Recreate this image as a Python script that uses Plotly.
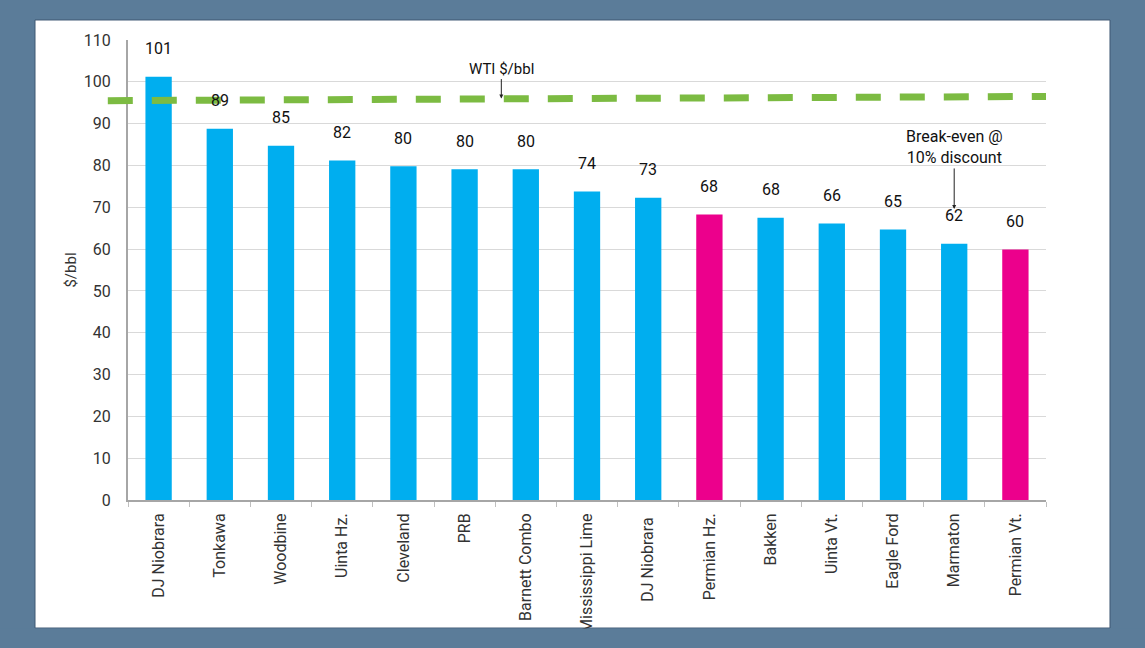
import plotly.graph_objects as go

categories = ["DJ Niobrara", "Tonkawa", "Woodbine", "Uinta Hz.", "Cleveland", "PRB",
              "Barnett Combo", "Mississippi Lime", "DJ Niobrara ", "Permian Hz.", "Bakken",
              "Uinta Vt.", "Eagle Ford", "Marmaton", "Permian Vt."]
values = [101.2, 88.8, 84.7, 81.2, 79.8, 79.1, 79.1, 73.8, 72.3, 68.3, 67.5, 66.1, 64.7, 61.3, 59.9]
labels = ["101", "89", "85", "82", "80", "80", "80", "74", "73", "68", "68", "66", "65", "62", "60"]
permian = [False, False, False, False, False, False, False, False, False, True, False, False, False, False, True]
wti = [95.5, 96.5]  # WTI $/bbl at left and right ends of the dashed line
y_ticks = [0, 10, 20, 30, 40, 50, 60, 70, 80, 90, 100, 110]

BLUE = "#00AEEF"
MAGENTA = "#EC008C"
GREEN = "#7CBB42"
FRAME = "#5B7C99"
FONT = "Roboto, Arial, sans-serif"

colors = [MAGENTA if p else BLUE for p in permian]

fig = go.Figure()
fig.add_trace(go.Bar(x=categories, y=values, marker=dict(color=colors, line=dict(width=0)),
                     width=0.43, showlegend=False, hoverinfo="x+y"))

annotations = []
for c, v, t in zip(categories, values, labels):
    annotations.append(dict(x=c, y=v, text=t, showarrow=False, yanchor="middle", yshift=28,
                            font=dict(family=FONT, size=16, color="#111111")))

annotations.append(dict(x=5.6, y=96.0, xref="x", yref="y", text="WTI $/bbl", showarrow=True,
                        arrowhead=2, arrowsize=0.8, arrowwidth=1, arrowcolor="#222222",
                        ax=0, ay=-30, font=dict(family=FONT, size=15, color="#111111")))
annotations.append(dict(x=13, y=69.6, xref="x", yref="y", text="Break-even @<br>10% discount",
                        showarrow=True, arrowhead=2, arrowsize=0.8, arrowwidth=1,
                        arrowcolor="#222222", ax=0, ay=-62,
                        font=dict(family=FONT, size=16, color="#111111")))

shapes = [
    # white panel
    dict(type="rect", xref="paper", yref="paper", x0=-0.1013, x1=1.0697, y0=-0.2783, y1=1.0435,
         fillcolor="white", line=dict(color="#3F5873", width=1), layer="below"),
    # bottom frame strip (clips overlong tick label)
    dict(type="rect", xref="paper", yref="paper", x0=-0.2, x1=1.2, y0=-0.34, y1=-0.2794,
         fillcolor=FRAME, line=dict(width=0), layer="above"),
    # WTI dashed line
    dict(type="line", xref="paper", yref="y", x0=-0.022, x1=1.0, y0=wti[0], y1=wti[1],
         line=dict(color=GREEN, width=7, dash="25px,19px"), layer="above"),
]

fig.update_layout(
    width=1145, height=648,
    margin=dict(l=128, r=99, t=40, b=148),
    paper_bgcolor=FRAME, plot_bgcolor="white",
    annotations=annotations, shapes=shapes,
    font=dict(family=FONT, color="#333333"),
    xaxis=dict(type="category", categoryorder="array", categoryarray=categories,
               tickangle=-90, tickfont=dict(family=FONT, size=16, color="#333333"),
               ticklabelstandoff=5,
               showline=True, linecolor="#A6A6A6", linewidth=2,
               ticks="outside", tickson="boundaries", ticklen=5, tickcolor="#BFBFBF",
               showgrid=False, range=[-0.5, 14.5], fixedrange=True),
    yaxis=dict(range=[0, 110], tickvals=y_ticks, showgrid=True, gridcolor="#D9D9D9", gridwidth=1,
               showline=True, linecolor="#A6A6A6", linewidth=2, zeroline=False,
               ticks="", ticklabelstandoff=12,
               tickfont=dict(family=FONT, size=16, color="#333333"),
               title=dict(text="$/bbl", font=dict(family=FONT, size=15, color="#333333"), standoff=4),
               fixedrange=True),
)

fig.write_html("out.html")
